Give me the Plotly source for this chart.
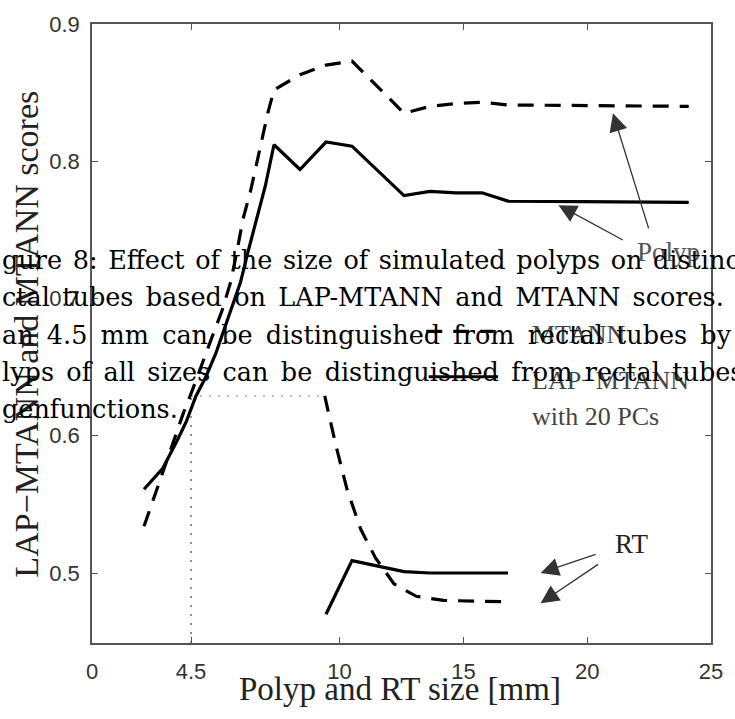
import plotly.graph_objects as go

# ---------------- data ----------------
# Polyps, LAP-MTANN with 20 PCs (solid)
lap_polyp_x = [2.1, 2.85, 3.4, 3.8, 4.2, 4.6, 5.0, 5.3, 5.65, 6.0, 6.3, 6.65, 7.0, 7.35,
               8.4, 9.45, 10.5, 12.6, 13.65, 14.7, 15.75, 16.8, 24.1]
lap_polyp_y = [0.561, 0.576, 0.595, 0.610, 0.629, 0.643, 0.660, 0.676, 0.694, 0.712, 0.734,
               0.758, 0.782, 0.812, 0.794, 0.814, 0.811, 0.775, 0.778, 0.777, 0.777, 0.771, 0.770]

# Polyps, MTANN (dashed)
mtann_polyp_x = [2.1, 2.6, 3.3, 3.7, 4.05, 4.45, 4.85, 5.25, 5.6, 5.85, 6.1, 6.4, 6.6, 6.85,
                 7.1, 7.35, 8.4, 9.45, 10.5, 12.6, 13.65, 14.7, 15.75, 16.8, 24.1]
mtann_polyp_y = [0.534, 0.560, 0.597, 0.617, 0.633, 0.653, 0.672, 0.691, 0.712, 0.734, 0.758,
                 0.778, 0.795, 0.816, 0.835, 0.852, 0.863, 0.870, 0.873, 0.835, 0.840, 0.842,
                 0.843, 0.841, 0.840]

# Rectal tubes, LAP-MTANN (solid)
lap_rt_x = [9.45, 10.5, 11.55, 12.6, 13.65, 14.7, 15.75, 16.8]
lap_rt_y = [0.470, 0.509, 0.505, 0.501, 0.500, 0.500, 0.500, 0.500]

# Rectal tubes, MTANN (dashed)
mtann_rt_x = [9.4, 9.85, 10.3, 10.85, 11.45, 12.2, 13.1, 14.2, 16.8]
mtann_rt_y = [0.629, 0.593, 0.561, 0.532, 0.511, 0.492, 0.483, 0.480, 0.479]

# dotted guide (the 4.5 mm threshold)
guide_x = 4.0
guide_y = 0.629
guide_x_end = 9.4

# legend samples drawn inside the plot
mtann_sample_x = [13.5, 16.2]
mtann_sample_y = [0.676, 0.676]
lap_sample_x = [13.6, 16.4]
lap_sample_y = [0.643, 0.643]

# ticks
x_tick_vals = [0, 4, 10, 15, 20, 25]
x_tick_text = ["0", "4.5", "10", "15", "20", "25"]
y_tick_vals = [0.5, 0.6, 0.7, 0.8, 0.9]
y_tick_text = ["0.5", "0.6", "0.7", "0.8", "0.9"]

x_title = "Polyp and RT size [mm]"
y_title = "LAP\u2212MTANN and MTANN scores"

caption_lines = [
    "gure 8: Effect of the size of simulated polyps on distinc",
    "ctal tubes based on LAP-MTANN and MTANN scores.",
    "an 4.5 mm can be distinguished from rectal tubes by",
    "lyps of all sizes can be distinguished from rectal tubes",
    "genfunctions.",
]
# justified text: extra inter-word space for each line
caption_gap = ["\u200a", "\u2006", "\u2009", "\u2006", ""]

# ---------------- figure ----------------
W, H = 735, 719
ML, MR, MT, MB = 92, 18, 16, 76
PW, PH = W - ML - MR, H - MT - MB


def px_x(px):
    return (px - ML) / PW


def px_y(py):
    return (H - MB - py) / PH


fig = go.Figure()
LW = 3.2
DASH = "16px,11px"

fig.add_trace(go.Scatter(x=[guide_x, guide_x], y=[0.449, guide_y], mode="lines",
                         line=dict(color="#777", width=1.6, dash="2px,7px"), hoverinfo="skip"))
fig.add_trace(go.Scatter(x=[guide_x, guide_x_end], y=[guide_y, guide_y], mode="lines",
                         line=dict(color="#aaa", width=1.6, dash="2px,7px"), hoverinfo="skip"))

fig.add_trace(go.Scatter(x=mtann_polyp_x, y=mtann_polyp_y, mode="lines", name="MTANN polyp",
                         line=dict(color="black", width=LW, dash=DASH)))
fig.add_trace(go.Scatter(x=lap_polyp_x, y=lap_polyp_y, mode="lines", name="LAP-MTANN polyp",
                         line=dict(color="black", width=LW)))
fig.add_trace(go.Scatter(x=mtann_rt_x, y=mtann_rt_y, mode="lines", name="MTANN RT",
                         line=dict(color="black", width=LW, dash=DASH)))
fig.add_trace(go.Scatter(x=lap_rt_x, y=lap_rt_y, mode="lines", name="LAP-MTANN RT",
                         line=dict(color="black", width=LW)))
fig.add_trace(go.Scatter(x=mtann_sample_x, y=mtann_sample_y, mode="lines",
                         line=dict(color="black", width=LW, dash=DASH), hoverinfo="skip"))
fig.add_trace(go.Scatter(x=lap_sample_x, y=lap_sample_y, mode="lines",
                         line=dict(color="black", width=LW), hoverinfo="skip"))

axis_common = dict(showline=True, linecolor="#555", linewidth=1.6, mirror="ticks",
                   ticks="inside", ticklen=6, tickcolor="#555", tickwidth=1.2,
                   showgrid=False, zeroline=False,
                   tickfont=dict(family="Liberation Sans Narrow, Arial Narrow, Liberation Sans, Arial",
                                 size=22, color="#333"))

fig.update_xaxes(range=[0, 25], tickvals=x_tick_vals, ticktext=x_tick_text,
                 ticklabelstandoff=8, **axis_common)
fig.update_yaxes(range=[0.449, 0.9], tickvals=y_tick_vals, ticktext=y_tick_text,
                 ticklabelstandoff=6, **axis_common)

ann = []
serif = "Liberation Serif, Times New Roman, serif"
# axis titles
ann.append(dict(text=x_title, xref="paper", yref="paper", x=px_x(403), y=px_y(690),
                xanchor="center", yanchor="middle", showarrow=False,
                font=dict(family=serif, size=33, color="#222")))
ann.append(dict(text=y_title, xref="paper", yref="paper", x=px_x(26), y=px_y(330),
                xanchor="center", yanchor="middle", showarrow=False, textangle=-90,
                font=dict(family=serif, size=34, color="#222")))

lab_font = dict(family=serif, size=26, color="#444")
ann.append(dict(text="MTANN", x=17.7, y=0.674, xanchor="left", yanchor="middle",
                showarrow=False, font=lab_font))
ann.append(dict(text="LAP\u2212MTANN", x=17.7, y=0.640, xanchor="left", yanchor="middle",
                showarrow=False, font=lab_font))
ann.append(dict(text="with 20 PCs", x=17.7, y=0.614, xanchor="left", yanchor="middle",
                showarrow=False, font=lab_font))
ann.append(dict(text="Polyp", x=23.3, y=0.734, xanchor="center", yanchor="middle",
                showarrow=False, font=dict(family=serif, size=27, color="#555")))
ann.append(dict(text="RT", x=21.8, y=0.521, xanchor="center", yanchor="middle",
                showarrow=False, font=dict(family=serif, size=27, color="#222")))

# arrows (tip, tail)
arrows = [((18.84, 0.768), (21.5, 0.742)),
          ((21.04, 0.835), (22.5, 0.750)),
          ((18.12, 0.500), (20.4, 0.514)),
          ((18.12, 0.478), (20.5, 0.507))]
for (tx, ty), (sx, sy) in arrows:
    ann.append(dict(text="", x=tx, y=ty, ax=sx, ay=sy, xref="x", yref="y",
                    axref="x", ayref="y", showarrow=True, arrowhead=2, arrowsize=2.8,
                    arrowwidth=1.3, arrowcolor="#333", standoff=0, startstandoff=0))

# caption text overlay
cap_y = [255, 293, 331, 368, 406]
for line, gap, py in zip(caption_lines, caption_gap, cap_y):
    ann.append(dict(text=line.replace(" ", " " + gap), xref="paper", yref="paper",
                    x=px_x(-1), y=px_y(py), xanchor="left", yanchor="middle",
                    showarrow=False,
                    font=dict(family="DejaVu Serif", size=25.5, color="black")))

fig.update_layout(width=W, height=H, margin=dict(l=ML, r=MR, t=MT, b=MB),
                  plot_bgcolor="white", paper_bgcolor="white", showlegend=False,
                  annotations=ann)

fig.write_html("out.html")
